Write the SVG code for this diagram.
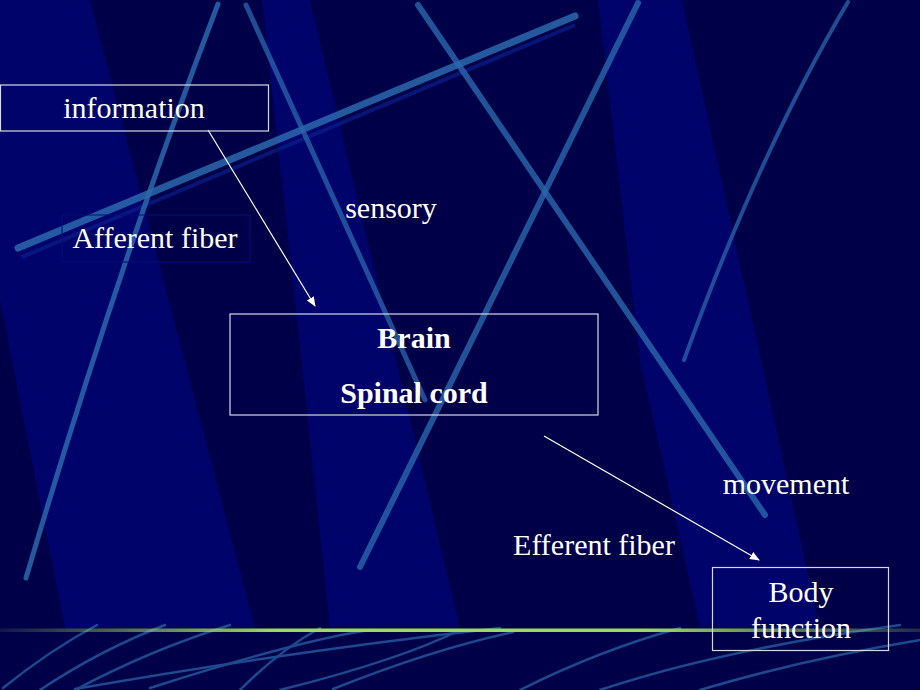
<svg xmlns="http://www.w3.org/2000/svg" width="920" height="690" viewBox="0 0 920 690">
<style>
.t{font-family:"Liberation Serif","Times New Roman",serif;font-size:30px;fill:#ffffff}
.b{font-weight:bold}
.box{fill:none;stroke:#d8d8e8;stroke-width:1.2}
.conn{stroke:#ffffff;stroke-width:1.2;fill:none}
.streak{fill:none;stroke:#2b68ad;stroke-linecap:round}
.band{fill:#00036a}
</style>
<defs>
<marker id="ah" viewBox="0 0 10 10" refX="9" refY="5" markerWidth="10" markerHeight="10" markerUnits="userSpaceOnUse" orient="auto">
<path d="M0,1 L10,5 L0,9 z" fill="#ffffff"/>
</marker>
<linearGradient id="green" x1="0" y1="0" x2="1" y2="0">
<stop offset="0" stop-color="#9cdc5c" stop-opacity="0.1"/>
<stop offset="0.3" stop-color="#9cdc5c" stop-opacity="1"/>
<stop offset="0.7" stop-color="#9cdc5c" stop-opacity="1"/>
<stop offset="1" stop-color="#9cdc5c" stop-opacity="0.2"/>
</linearGradient>
</defs>
<g id="background">
<rect x="0" y="0" width="920" height="690" fill="#000048"/>
<polygon class="band" points="0,0 90,0 255,628 65,628 0,300"/>
<polygon class="band" points="262,0 310,0 460,628 330,628 295,300"/>
<polygon class="band" points="598,0 682,0 820,628 700,628 640,360"/>
<path class="streak" d="M18,248 L575,16" stroke-width="7" opacity="0.85"/>
<path d="M22,257 L575,25" stroke="#0a1f8a" stroke-width="4" fill="none" opacity="0.7"/>
<path class="streak" d="M218,4 Q120,260 26,578" stroke-width="5" opacity="0.85"/>
<path class="streak" d="M246,5 L425,400" stroke-width="5" opacity="0.75"/>
<path class="streak" d="M418,5 L765,515" stroke-width="6" opacity="0.8"/>
<path class="streak" d="M638,3 L360,567" stroke-width="6" opacity="0.8"/>
<path class="streak" d="M848,2 Q760,150 684,360" stroke-width="4" opacity="0.75"/>
<rect x="0" y="628" width="920" height="62" fill="#000048"/>
<g opacity="0.7">
<path class="streak" d="M3,688 Q50,650 97,625" stroke-width="2.5"/>
<path class="streak" d="M40,690 Q100,650 165,625" stroke-width="2.5"/>
<path class="streak" d="M75,690 Q150,650 230,625" stroke-width="2.5"/>
<path class="streak" d="M75,689 Q300,650 500,628" stroke-width="2.5"/>
<path class="streak" d="M240,690 Q280,650 320,628" stroke-width="2.5"/>
<path class="streak" d="M150,688 Q300,640 370,630" stroke-width="2.5"/>
<path class="streak" d="M333,689 Q430,650 513,632" stroke-width="2.5"/>
<path class="streak" d="M280,690 Q400,660 460,630" stroke-width="2.5"/>
<path class="streak" d="M520,690 Q600,650 680,628" stroke-width="2.5"/>
<path class="streak" d="M600,690 Q720,650 900,625" stroke-width="2.5"/>
<path class="streak" d="M700,690 Q800,660 920,640" stroke-width="2.5"/>
</g>
<rect x="0" y="628.5" width="920" height="3.5" fill="url(#green)"/>
</g>
<g id="connectors">
<line class="conn" x1="208" y1="130" x2="315" y2="306" marker-end="url(#ah)"/>
<line class="conn" x1="544" y1="436" x2="759" y2="560" marker-end="url(#ah)"/>
</g>
<g id="node-information">
<rect class="box" x="0.5" y="85" width="268" height="46"/>
<text class="t" x="134" y="118" text-anchor="middle">information</text>
</g>
<g id="node-brain">
<rect class="box" x="230" y="314" width="368" height="101"/>
<text class="t b" x="414" y="348" text-anchor="middle">Brain</text>
<text class="t b" x="414" y="403" text-anchor="middle">Spinal cord</text>
</g>
<g id="node-body">
<rect class="box" x="712.5" y="567.5" width="176" height="83"/>
<text class="t" x="801" y="602" text-anchor="middle">Body</text>
<text class="t" x="801" y="638" text-anchor="middle">function</text>
</g>
<g id="labels">
<rect x="62" y="215" width="188" height="47" fill="none" stroke="#00107a" stroke-width="1"/>
<text class="t" x="155" y="248" text-anchor="middle">Afferent fiber</text>
<text class="t" x="391" y="218" text-anchor="middle">sensory</text>
<text class="t" x="786" y="494" text-anchor="middle">movement</text>
<text class="t" x="594" y="555" text-anchor="middle">Efferent fiber</text>
</g>
</svg>
